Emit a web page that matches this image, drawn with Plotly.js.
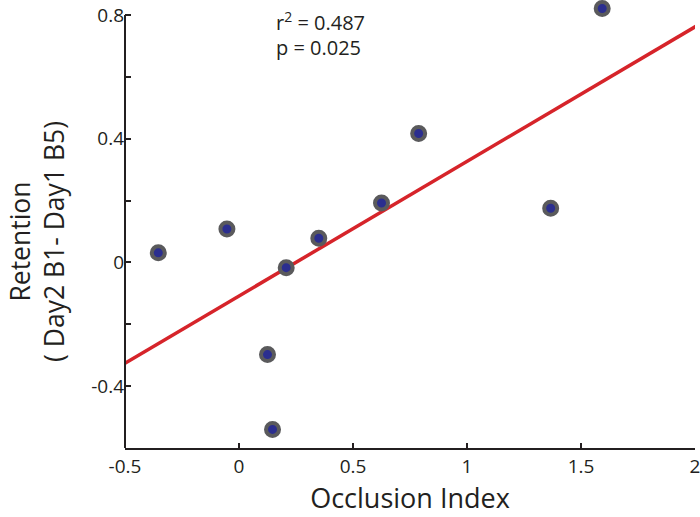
<!DOCTYPE html>
<html>
<head>
<meta charset="utf-8">
<script src="https://cdn.plot.ly/plotly-3.0.1.min.js"></script>
<style>html,body{margin:0;padding:0;background:#fff;}#chart{width:700px;height:517px;}</style>
</head>
<body>
<div id="chart"></div>
<script>
// Data
const occlusionIndex = [-0.354, -0.053, 0.125, 0.147, 0.207, 0.350, 0.625, 0.788, 1.367, 1.593];
const retention      = [0.031, 0.108, -0.298, -0.540, -0.017, 0.078, 0.192, 0.417, 0.175, 0.821];
const fitX = [-0.5, 2.01];
const fitY = [-0.326, 0.766];
const xTickVals = [-0.5, 0, 0.5, 1, 1.5, 2];
const xTickText = ["-0.5", "0", "0.5", "1", "1.5", "2"];
const yTickVals = [-0.4, 0, 0.4, 0.8];
const yTickText = ["-0.4", "0", "0.4", "0.8"];
const statsText = ["r<sup>2</sup> = 0.487", "p = 0.025"];
const xTitle = "Occlusion Index";
const yTitle = "Retention<br>( Day2 B1- Day1 B5)";

const FONT = "Open Sans, Liberation Sans, sans-serif";
const INK = "#231f20";

// plot area geometry (px)
const L = 125, R = 5, T = 0, B = 69, W = 700, H = 517;
const plotW = W - L - R, plotH = H - T - B;
const yMin = -0.6, yAxisTop = 0.8, yMax = 0.8485;
const px2paperX = p => (p - L) / plotW;
const px2paperY = p => (H - B - p) / plotH;

const traces = [
  {
    x: fitX, y: fitY, mode: "lines", type: "scatter",
    line: {color: "#d6242a", width: 3.5},
    cliponaxis: false, hoverinfo: "skip", showlegend: false
  },
  {
    x: occlusionIndex, y: retention, mode: "markers", type: "scatter",
    marker: {size: 13, color: "#2b2e8f", line: {color: "#5a5a5c", width: 4}},
    cliponaxis: false, showlegend: false
  }
];

const layout = {
  width: W, height: H,
  margin: {l: L, r: R, t: T, b: B, pad: 0},
  paper_bgcolor: "#fff", plot_bgcolor: "#fff",
  font: {family: FONT, color: INK},
  showlegend: false,
  xaxis: {
    range: [-0.5, 2], tickvals: xTickVals, ticktext: xTickText,
    showgrid: false, zeroline: false, showline: true, linecolor: INK, linewidth: 2,
    ticks: "inside", ticklen: 5, tickwidth: 2, tickcolor: INK,
    tickfont: {size: 19, family: FONT, color: INK},
    ticklabeloverflow: "allow",
    title: {text: xTitle, font: {size: 27, family: FONT, color: INK}, standoff: 10},
    automargin: false
  },
  yaxis: {
    range: [yMin, yMax], tickvals: yTickVals, ticktext: yTickText,
    showgrid: false, zeroline: false, showline: false,
    ticks: "inside", ticklen: 6, tickwidth: 2, tickcolor: INK,
    minor: {tickvals: [-0.6, -0.2, 0.2, 0.6], ticks: "inside", ticklen: 6, tickwidth: 2, tickcolor: INK},
    tickfont: {size: 19, family: FONT, color: INK},
    ticklabeloverflow: "allow",
    automargin: false
  },
  shapes: [
    {type: "line", xref: "paper", yref: "y", x0: 0, x1: 0, y0: yMin, y1: yAxisTop,
     line: {color: INK, width: 2}, layer: "above"}
  ],
  annotations: [
    {xref: "paper", yref: "paper", x: px2paperX(37), y: px2paperY(242), xanchor: "center", yanchor: "middle",
     text: yTitle, textangle: -90, showarrow: false, font: {size: 26.5, family: FONT, color: INK}},
    {xref: "paper", yref: "paper", x: px2paperX(274), y: px2paperY(21), xanchor: "left", yanchor: "middle",
     text: statsText[0], showarrow: false, font: {size: 20, family: FONT, color: INK}},
    {xref: "paper", yref: "paper", x: px2paperX(274), y: px2paperY(48), xanchor: "left", yanchor: "middle",
     text: statsText[1], showarrow: false, font: {size: 20, family: FONT, color: INK}}
  ]
};

Plotly.newPlot("chart", traces, layout, {displayModeBar: false, staticPlot: true});
</script>
</body>
</html>
